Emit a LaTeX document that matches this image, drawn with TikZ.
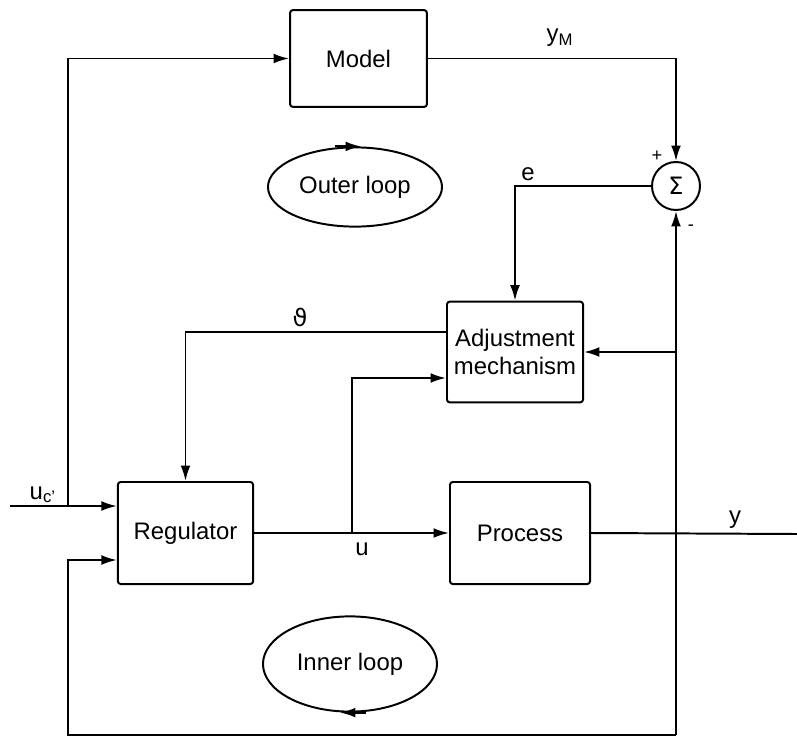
\documentclass[tikz,border=0pt]{standalone}
\usepackage{fontspec}
\setmainfont{Liberation Sans}
\newfontfamily\symfont{DejaVu Sans}
\usetikzlibrary{positioning,calc,arrows.meta,shapes.geometric}

\begin{document}
\begin{tikzpicture}[
    x=0.025cm, y=-0.025cm,
    font=\fontsize{17}{20}\selectfont,
    line width=1.4pt,
    block/.style={
        draw,
        rounded corners=2pt,
        minimum width=3.42cm,
        minimum height=2.48cm,
        align=center,
        inner sep=2pt
    },
    sum/.style={
        circle,
        draw,
        minimum size=1.2cm,
        inner sep=0pt
    },
    loopnote/.style={
        ellipse,
        draw,
        minimum width=4.35cm
    },
    arrow/.style={-{Latex[length=11pt,width=7pt]}},
    sign/.style={font=\fontsize{13}{14}\selectfont, inner sep=1pt}
]
\useasboundingbox (0,0) rectangle (797,737);

\node[block, minimum height=2.42cm] (model) at (358.5,58.5) {Model};
\node[sum] (sigma) at (676,186) {\symfont Σ};
\node[block, minimum width=3.4cm, minimum height=2.52cm] (adjust) at (515,352)
    {Adjustment\\mechanism};
\node[block, minimum width=3.38cm, minimum height=2.55cm] (regulator) at (185.5,533) {Regulator};
\node[block, minimum width=3.5cm, minimum height=2.55cm] (process) at (520,533) {Process};
\node[loopnote, minimum height=1.98cm] (outer) at (355,187) {Outer loop};
\node[loopnote, minimum height=2.38cm] (inner) at (350,664) {Inner loop};

\coordinate (uin) at (10,506);
\coordinate (split) at (68,506);
\coordinate (yout) at (797,534);
\coordinate (fb) at (676,735);
\coordinate (fbl) at (68,735);
\coordinate (utap) at (352,533);

% reference signal to regulator and model
\draw[arrow] (uin) -- (regulator.west |- uin);
\draw[arrow] (split) |- (model.west);
\node[above right=-2pt and 10pt of uin] {u\textsubscript{c'}};

% model output to the summing point
\draw[arrow] (model.east) -| (sigma.north);
\node at (560,38) {y\textsubscript{M}};
\node[sign] at (657,156) {+};
\node[sign] at (691,228) {-};

% error to adjustment mechanism
\draw[arrow] (sigma.west) -| (adjust.north);
\node at (528,174) {e};

% parameters to regulator
\draw[arrow] ($(adjust.west)+(0,-20)$) -| (regulator.north);
\node at (300,317) {\symfont ϑ};

% control signal
\draw[arrow] (regulator.east) -- (process.west);
\draw[arrow] (utap) |- ($(adjust.west)+(0,26)$);
\node at (362,549) {u};

% process output and feedback
\draw (process.east) -- (yout);
\node at (735,520) {y};
\draw[arrow] (fb) -- (sigma.south);
\draw[arrow] (sigma |- adjust.east) -- (adjust.east);
\draw[arrow] (fb) -- (fbl) |- ($(regulator.west)+(0,27)$);

% loop directions
\draw[arrow] ([xshift=-0.5cm]outer.north) -- ([xshift=0.15cm]outer.north);
\draw[arrow] ([xshift=0.4cm]inner.south) -- ([xshift=-0.25cm]inner.south);

\end{tikzpicture}
\end{document}
